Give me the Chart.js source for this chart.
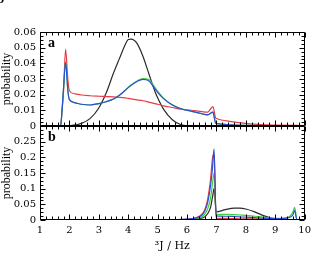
<!DOCTYPE html>
<html><head><meta charset="utf-8">
<script src="https://cdn.jsdelivr.net/npm/chart.js@4/dist/chart.umd.min.js"></script>
<style>html,body{margin:0;padding:0;background:#fff}#w{width:315px;height:253px}</style>
</head><body><div id="w"><canvas id="c" width="315" height="253"></canvas></div>
<script>
// ---- data ----
const xTicks = [1,2,3,4,5,6,7,8,9,10];
const yTicksA = [0,0.01,0.02,0.03,0.04,0.05,0.06];
const yTicksB = [0,0.05,0.1,0.15,0.2,0.25];

const xA = [1,1.5,1.7,1.75,1.8,1.87,1.95,2.0,2.2,2.4,2.7,3.0,3.25,3.5,3.7,3.9,4.0,4.1,4.3,4.5,4.7,4.9,5.0,5.2,5.5,5.8,6.2,6.5,6.7,6.88,6.97,7.0,7.5,8.0,8.5,9.0,10];
const blackA = [0,0,0,0,0,0,0,0.0002,0.0007,0.0016,0.0047,0.0115,0.021,0.0338,0.043,0.052,0.0552,0.0555,0.0527,0.0445,0.0335,0.0225,0.018,0.0108,0.004,0.0008,0.0001,0,0,0,0,0,0,0,0,0,0];
const redA   = [0,0,0,0.01,0.022,0.049,0.029,0.0225,0.0205,0.0198,0.0193,0.019,0.0188,0.0186,0.0183,0.0179,0.0176,0.0173,0.0167,0.0161,0.0152,0.0143,0.0139,0.0128,0.0118,0.0108,0.0099,0.0092,0.0088,0.0124,0.0052,0.0048,0.0028,0.0017,0.0009,0.0006,0.0003];
const greenA = [0,0,0,0.01,0.024,0.0408,0.0222,0.0168,0.0148,0.0139,0.0134,0.0143,0.0155,0.0172,0.0196,0.0229,0.0246,0.0262,0.0287,0.0303,0.0296,0.0249,0.0222,0.0178,0.0135,0.011,0.0092,0.0078,0.0071,0.0088,0.002,0.0017,0.0007,0.0004,0.0003,0.0002,0.0001];
const blueA  = [0,0,0,0.01,0.024,0.0405,0.022,0.0168,0.0148,0.0139,0.0134,0.0143,0.0155,0.0172,0.0196,0.0228,0.0245,0.026,0.0284,0.0298,0.0288,0.024,0.0215,0.0175,0.0134,0.011,0.0092,0.0078,0.0071,0.0088,0.002,0.0017,0.0007,0.0004,0.0003,0.0002,0.0001];

const xB = [1,5,5.5,6,6.3,6.5,6.6,6.7,6.8,6.87,6.92,6.99,7.3,7.6,7.8,8.0,8.3,8.6,9.0,9.3,9.5,9.6,9.66,9.74,9.8,10];
const blackB = [0,0.0003,0.0006,0.001,0.002,0.006,0.01,0.02,0.04,0.075,0.1,0.026,0.033,0.038,0.038,0.035,0.026,0.014,0.004,0.002,0.001,0.001,0.001,0,0,0];
const redB   = [0,0.0005,0.001,0.003,0.007,0.018,0.032,0.065,0.13,0.2,0.21,0.006,0.005,0.0045,0.004,0.004,0.0035,0.003,0.002,0.002,0.0015,0.0015,0.0015,0.001,0.001,0.001];
const greenB = [0,0.0004,0.0008,0.002,0.004,0.01,0.018,0.035,0.07,0.12,0.15,0.019,0.018,0.017,0.016,0.015,0.012,0.009,0.005,0.006,0.012,0.025,0.04,0,0,0];
const blueB  = [0,0.0005,0.001,0.003,0.006,0.015,0.028,0.055,0.11,0.17,0.227,0.013,0.012,0.011,0.01,0.009,0.008,0.006,0.004,0.005,0.009,0.016,0.03,0,0,0];

const COL = {black:'#2a2a2a', red:'#e83a44', green:'#3ccf3c', blue:'#2a4fd6'};

function pts(xs, ys){ return xs.map((x,i)=>({x:x, y:ys[i]})); }
function ds(xs, ys, color, axis){
  return {data: pts(xs,ys), borderColor: color, borderWidth: 1.2, pointRadius: 0,
          cubicInterpolationMode: 'monotone', fill: false, yAxisID: axis};
}
function fmt(v){ return String(+Number(v).toFixed(3)); }

const serif = 'DejaVu Serif';

const framePlugin = {
  id: 'frames',
  afterDatasetsDraw(chart){
    const ctx = chart.ctx, ca = chart.chartArea, xs = chart.scales.x;
    ctx.save();
    ctx.strokeStyle = '#000'; ctx.lineWidth = 1;
    const L = Math.round(ca.left)+0.5, R = Math.round(ca.right)-0.5;
    ['ya','yb'].forEach((id) => {
      const s = chart.scales[id];
      const T = Math.round(s.top)+0.5, B = Math.round(s.bottom)-0.5;
      ctx.beginPath(); ctx.rect(L, T, R-L, B-T); ctx.stroke();
      const step = id==='ya' ? 0.01 : 0.05;
      const minor = step/4;
      ctx.beginPath();
      for (let i=0; i<=Math.round((s.max - s.min)/minor); i++){
        const v = s.min + i*minor;
        const p = Math.round(s.getPixelForValue(v))+0.5;
        const len = (i % 4 === 0) ? 5 : 3;
        ctx.moveTo(L, p); ctx.lineTo(L+len, p);
        ctx.moveTo(R, p); ctx.lineTo(R-len, p);
      }
      for (let i=0; i<=Math.round((xs.max - xs.min)/0.2); i++){
        const v = xs.min + i*0.2;
        const p = Math.round(xs.getPixelForValue(v))+0.5;
        const len = (i % 5 === 0) ? 5 : 3;
        ctx.moveTo(p, T); ctx.lineTo(p, T+len);
        ctx.moveTo(p, B); ctx.lineTo(p, B-len);
      }
      ctx.stroke();
      ctx.fillStyle = '#000';
      ctx.font = 'bold 14px "Liberation Serif"';
      ctx.textBaseline = 'alphabetic';
      ctx.fillText(id==='ya' ? 'a' : 'b', ca.left + 8, s.top + 15);
    });
    ctx.font = 'bold 13px "Liberation Serif"';
    ctx.fillText('b', -3, 3);
    ctx.restore();
  }
};

const tickFont = {family: serif, size: 10};

new Chart(document.getElementById('c'), {
  type: 'line',
  data: {
    datasets: [
      ds(xA, blueA, COL.blue, 'ya'),
      ds(xA, greenA, COL.green, 'ya'),
      ds(xA, redA, COL.red, 'ya'),
      ds(xA, blackA, COL.black, 'ya'),
      ds(xB, blueB, COL.blue, 'yb'),
      ds(xB, redB, COL.red, 'yb'),
      ds(xB, greenB, COL.green, 'yb'),
      ds(xB, blackB, COL.black, 'yb')
    ]
  },
  options: {
    responsive: false, animation: false, devicePixelRatio: 1,
    layout: {padding: {left: 0, top: 32, right: 6, bottom: 0}},
    plugins: {legend: {display: false}, tooltip: {enabled: false}},
    scales: {
      x: {
        type: 'linear', min: 1, max: 10,
        grid: {display: false, drawTicks: false}, border: {display: false},
        afterBuildTicks: s => { s.ticks = xTicks.map(v => ({value: v})); },
        ticks: {padding: 4, color: '#000', font: tickFont, maxRotation: 0, autoSkip: false, callback: v => fmt(v)},
        title: {display: true, text: '³J / Hz', color: '#000', font: {family: serif, size: 11}, padding: {top: 3, bottom: 0}},
        afterFit: s => { s.height = 33; }
      },
      yb: {
        type: 'linear', position: 'left', stack: 'p', stackWeight: 1, min: 0, max: 0.3,
        grid: {display: false, drawTicks: false}, border: {display: false},
        afterBuildTicks: s => { s.ticks = yTicksB.map(v => ({value: v})); },
        ticks: {padding: 4, color: '#000', font: tickFont, autoSkip: false, callback: v => fmt(v)},
        title: {display: true, text: 'probability', color: '#000', font: {family: 'Liberation Serif', size: 12}, padding: 0},
        afterFit: s => { s.width = 40; }
      },
      ya: {
        type: 'linear', position: 'left', stack: 'p', stackWeight: 1, min: 0, max: 0.06,
        grid: {display: false, drawTicks: false}, border: {display: false},
        afterBuildTicks: s => { s.ticks = yTicksA.map(v => ({value: v})); },
        ticks: {padding: 4, color: '#000', font: tickFont, autoSkip: false, callback: v => fmt(v)},
        title: {display: true, text: 'probability', color: '#000', font: {family: 'Liberation Serif', size: 12}, padding: 0},
        afterFit: s => { s.width = 40; }
      }
    }
  },
  plugins: [framePlugin]
});
</script></body></html>
